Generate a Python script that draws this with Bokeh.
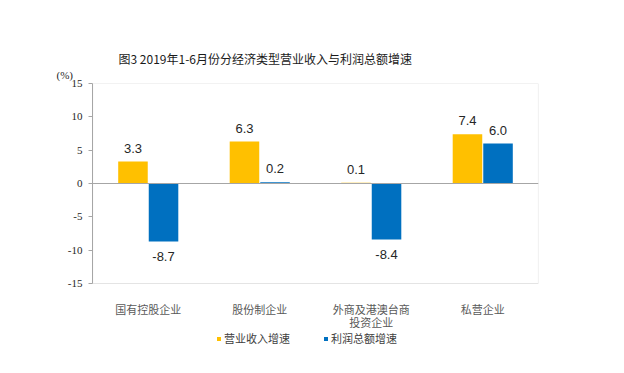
from bokeh.plotting import figure
from bokeh.models import (ColumnDataSource, FactorRange, Range1d, Span, Title, BoxAnnotation,
                          Legend, LegendItem, FixedTicker, LabelSet)
from bokeh.core.properties import value
from bokeh.transform import dodge
from bokeh.embed import file_html
from bokeh.resources import INLINE

categories = ["国有控股企业", "股份制企业", "外商及港澳台商\n投资企业", "私营企业"]
revenue_growth = [3.3, 6.3, 0.1, 7.4]
profit_growth = [-8.7, 0.2, -8.4, 6.0]
series_names = ["营业收入增速", "利润总额增速"]
y_ticks = [-15, -10, -5, 0, 5, 10, 15]
title_text = "图3 2019年1-6月份分经济类型营业收入与利润总额增速"
unit_text = "(%)"

ORANGE = "#FFC000"
BLUE = "#0070C0"
GRAY = "#A6A6A6"

Y_MIN, Y_MAX = y_ticks[0], y_ticks[-1]
FRAME_H = 274
PLOT_H = 200
y_start = Y_MAX - FRAME_H * (Y_MAX - Y_MIN) / PLOT_H

def fmt(v):
    return f"{v:.1f}"

src = ColumnDataSource(dict(cat=categories, rev=revenue_growth, prof=profit_growth))

p = figure(frame_width=446, frame_height=FRAME_H, x_range=FactorRange(*categories, range_padding=0),
           y_range=Range1d(y_start, Y_MAX), output_backend="svg", toolbar_location=None,
           x_axis_location=None,
           min_border_left=92, min_border_right=70, min_border_top=83, min_border_bottom=0)
p.background_fill_color = "white"
p.border_fill_color = "white"
p.outline_line_color = None
p.grid.visible = False

# plot-area box
p.add_layout(BoxAnnotation(bottom=Y_MIN, top=Y_MAX, fill_alpha=0, line_color=GRAY,
                           line_width=1.2, level="underlay"))

r1 = p.vbar(x=dodge("cat", -0.137, range=p.x_range), top="rev", width=0.265, source=src,
            fill_color=ORANGE, line_color=None)
r2 = p.vbar(x=dodge("cat", 0.137, range=p.x_range), top="prof", width=0.265, source=src,
            fill_color=BLUE, line_color=None)

p.add_layout(Span(location=0, dimension="width", line_color=GRAY, line_width=1.2))

# value labels
for vals, off in ((revenue_growth, -0.137), (profit_growth, 0.137)):
    pos_src = ColumnDataSource(dict(
        cat=[c for c, v in zip(categories, vals) if v >= 0],
        y=[v for v in vals if v >= 0],
        t=[fmt(v) for v in vals if v >= 0]))
    neg_src = ColumnDataSource(dict(
        cat=[c for c, v in zip(categories, vals) if v < 0],
        y=[v for v in vals if v < 0],
        t=[fmt(v) for v in vals if v < 0]))
    p.add_layout(LabelSet(x=dodge("cat", off, range=p.x_range), y="y", text="t", source=pos_src,
                          text_align="center", text_baseline="bottom", y_offset=9,
                          text_font=value("Liberation Sans"), text_font_size="13px",
                          text_color="#262626"))
    p.add_layout(LabelSet(x=dodge("cat", off, range=p.x_range), y="y", text="t", source=neg_src,
                          text_align="center", text_baseline="top", y_offset=-10,
                          text_font=value("Liberation Sans"), text_font_size="13px",
                          text_color="#262626"))

# category labels under the plot box (each line centred on its own)
max_lines = max(len(c.split("\n")) for c in categories)
for i in range(max_lines):
    cats_i = [c for c in categories if len(c.split("\n")) > i]
    line_src = ColumnDataSource(dict(cat=cats_i, y=[Y_MIN] * len(cats_i),
                                     t=[c.split("\n")[i] for c in cats_i]))
    p.add_layout(LabelSet(x="cat", y="y", text="t", source=line_src, text_align="center",
                          text_baseline="top", y_offset=-17 - 13 * i,
                          text_font=value("Noto Sans CJK SC"), text_font_size="11px",
                          text_color="#595959"))

# y axis
p.yaxis.bounds = (Y_MIN, Y_MAX)
p.yaxis.ticker = FixedTicker(ticks=y_ticks)
p.yaxis.major_label_overrides = {t: str(t) for t in y_ticks}
p.yaxis.axis_line_color = GRAY
p.yaxis.major_tick_line_color = GRAY
p.yaxis.major_tick_in = 0
p.yaxis.major_tick_out = 4
p.yaxis.minor_tick_line_color = None
p.yaxis.major_label_text_font = "Liberation Serif"
p.yaxis.major_label_text_font_size = "11px"
p.yaxis.major_label_text_color = "#262626"
p.yaxis.major_label_standoff = 6

# legend
legend = Legend(items=[LegendItem(label=series_names[0], renderers=[r1]),
                       LegendItem(label=series_names[1], renderers=[r2])],
                orientation="horizontal", location=(124, 11),
                glyph_width=5, glyph_height=5, label_standoff=3, spacing=33,
                padding=0, margin=0, border_line_color=None, background_fill_alpha=0,
                label_text_font="Noto Sans CJK SC", label_text_font_size="11px",
                label_height=12, label_text_color="#404040")
p.add_layout(legend, "center")

# title and unit
p.add_layout(Title(text=unit_text, align="left", offset=-36, text_font="Liberation Serif",
                   text_font_size="11px", text_font_style="normal", text_color="#262626",
                   standoff=6), "above")
p.add_layout(Title(text=title_text, align="left", offset=26, text_font="Noto Sans CJK SC",
                   text_font_size="12px", text_font_style="normal", text_color="#1a1a1a",
                   standoff=-7), "above")

open("out.html", "w").write(file_html(p, INLINE))
